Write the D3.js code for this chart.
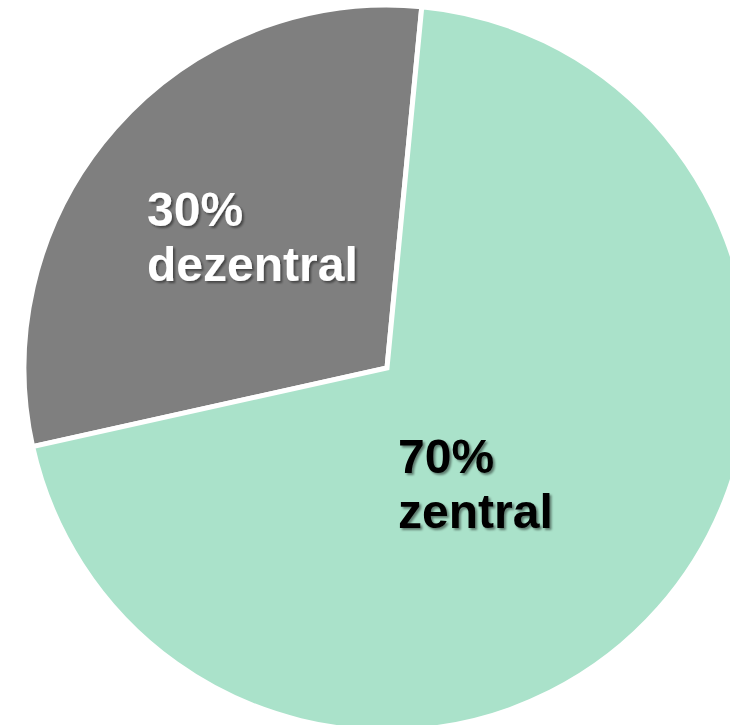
<!DOCTYPE html>
<html>
<head>
<meta charset="utf-8">
<script src="https://cdn.jsdelivr.net/npm/d3@7/dist/d3.min.js"></script>
<style>
  html, body { margin: 0; padding: 0; background: #ffffff; }
  svg { display: block; }
</style>
</head>
<body>
<svg id="chart" width="730" height="725"></svg>
<script>
// Share of processing: decentral vs central
const categories = ["dezentral", "zentral"];
const shares = [30, 70];
const sliceColors = ["#7f7f7f", "#aae2ca"];
const labelColors = ["#ffffff", "#000000"];

const width = 730, height = 725;
const cx = 387, cy = 368, radius = 363;

const svg = d3.select("#chart");

// soft drop shadow for the slice labels
const defs = svg.append("defs");
const f = defs.append("filter").attr("id", "shadow")
  .attr("x", "-10%").attr("y", "-10%").attr("width", "130%").attr("height", "140%");
f.append("feDropShadow")
  .attr("dx", 2).attr("dy", 2).attr("stdDeviation", 1.2)
  .attr("flood-color", "#000").attr("flood-opacity", 0.45);

const data = categories.map((c, i) => ({ name: c, value: shares[i], color: sliceColors[i], text: labelColors[i] }));

// gray slice centred on the upper-left direction
const grayMid = 311.5 * Math.PI / 180;
const start = grayMid - (shares[0] / 100) * Math.PI;

const pie = d3.pie().sort(null).value(d => d.value)
  .startAngle(start).endAngle(start + 2 * Math.PI);
const arc = d3.arc().innerRadius(0).outerRadius(radius);

const g = svg.append("g").attr("transform", `translate(${cx},${cy})`);

const arcs = pie(data);
g.selectAll("path.slice").data(arcs).enter().append("path")
  .attr("class", "slice")
  .attr("d", arc)
  .attr("fill", d => d.data.color)
  .attr("stroke", "#ffffff")
  .attr("stroke-width", 5)
  .attr("stroke-linejoin", "miter");

// label anchors relative to the pie centre (left edge, first baseline)
const labelOffsets = [[-240, -142], [11, 105]];
const lineGap = 55;

arcs.forEach((a, i) => {
  const t = g.append("text")
    .attr("x", labelOffsets[i][0])
    .attr("y", labelOffsets[i][1])
    .attr("fill", a.data.text)
    .attr("font-family", "'Liberation Sans', Arial, sans-serif")
    .attr("font-weight", "bold")
    .attr("font-size", 48)
    .attr("filter", "url(#shadow)");
  t.append("tspan").attr("x", labelOffsets[i][0]).text(`${a.data.value}%`);
  t.append("tspan").attr("x", labelOffsets[i][0]).attr("dy", lineGap).text(a.data.name);
});
</script>
</body>
</html>
